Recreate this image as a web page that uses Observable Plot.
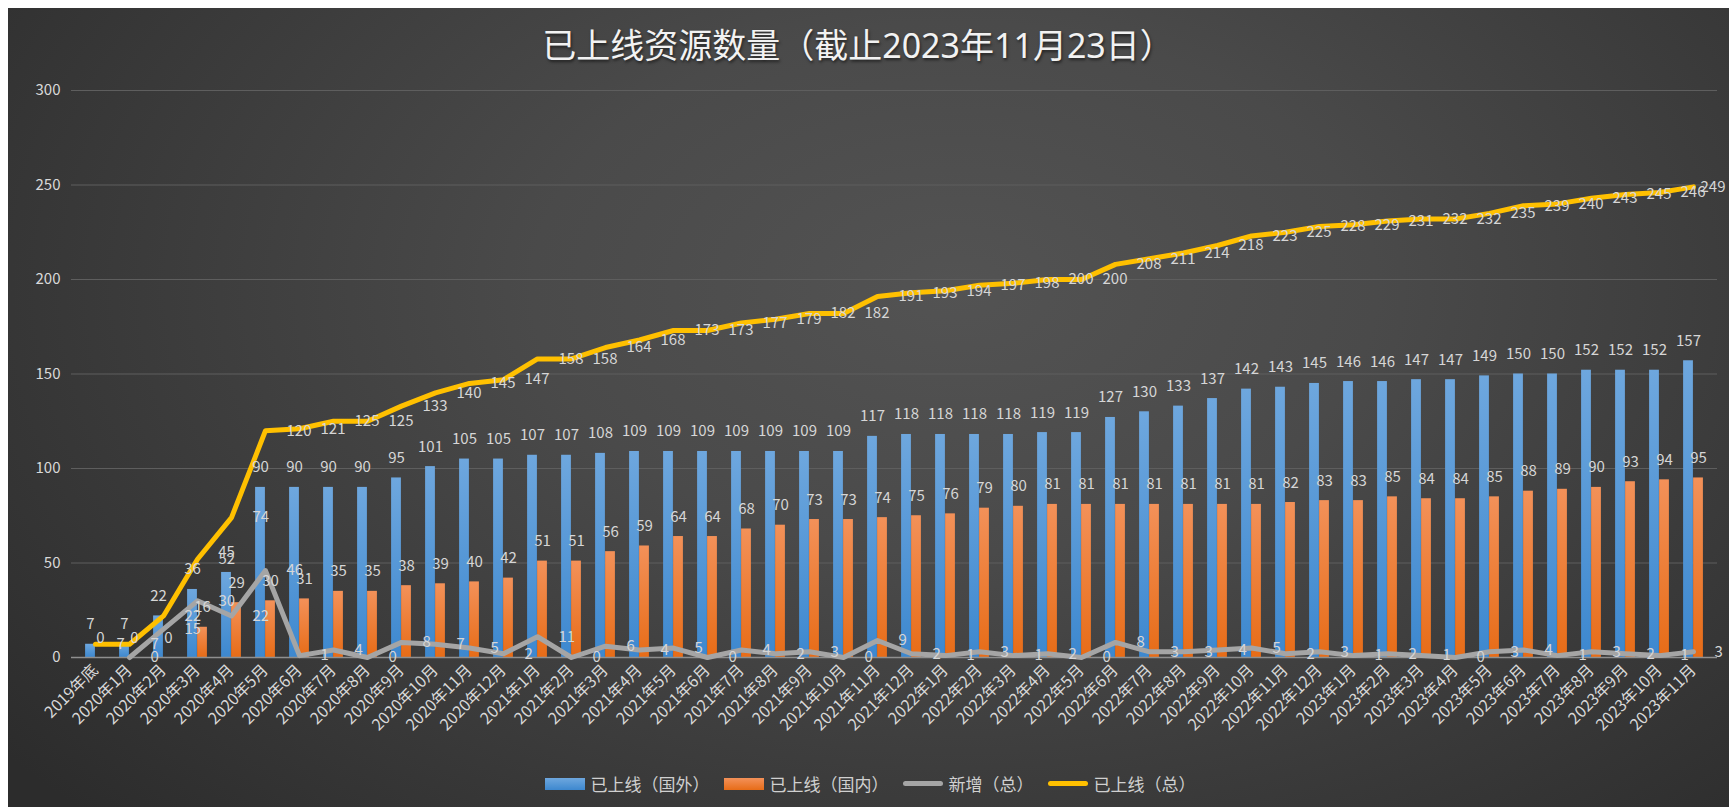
<!DOCTYPE html>
<html><head><meta charset="utf-8">
<script src="https://cdn.jsdelivr.net/npm/d3@7"></script>
<script src="https://cdn.jsdelivr.net/npm/@observablehq/plot@0.6"></script>
<style>
html,body{margin:0;padding:0;background:#fff;overflow:hidden;width:1729px;height:807px}
#wrap{position:absolute;left:8px;top:8px;width:1721px;height:799px;overflow:hidden;
  background:radial-gradient(ellipse 70% 95% at 55% 35%, #535353 0%, #4a4a4a 35%, #2c2c2c 100%);
  font-family:"Noto Sans CJK SC","Noto Sans CJK JP","DejaVu Sans",sans-serif}
#title{position:absolute;top:11px;left:850px;transform:translateX(-50%);white-space:nowrap;font-size:34px;color:#f2f2f2;text-shadow:1px 2px 3px rgba(0,0,0,.55);font-family:"Noto Sans","Noto Sans CJK SC",sans-serif}
#chart{position:absolute;left:0;top:0}
#legend{position:absolute;top:763px;left:0;width:1724px;display:flex;justify-content:center;align-items:center;font-size:17px;color:#d0d0d0}
.item{display:flex;align-items:center;margin:0 7px}
.sw{width:40px;height:12px;margin-right:6px}
.ln{width:40px;height:5px;border-radius:3px;margin-right:6px}
</style></head>
<body>
<div id="wrap">
  <div id="title">已上线资源数量（截止2023年11月23日）</div>
  <div id="chart"></div>
  <div id="legend"></div>
</div>
<script>
const categories = ["2019年底","2020年1月","2020年2月","2020年3月","2020年4月","2020年5月","2020年6月","2020年7月","2020年8月","2020年9月","2020年10月","2020年11月","2020年12月","2021年1月","2021年2月","2021年3月","2021年4月","2021年5月","2021年6月","2021年7月","2021年8月","2021年9月","2021年10月","2021年11月","2021年12月","2022年1月","2022年2月","2022年3月","2022年4月","2022年5月","2022年6月","2022年7月","2022年8月","2022年9月","2022年10月","2022年11月","2022年12月","2023年1月","2023年2月","2023年3月","2023年4月","2023年5月","2023年6月","2023年7月","2023年8月","2023年9月","2023年10月","2023年11月"];
const foreign = [7,7,22,36,45,90,90,90,90,95,101,105,105,107,107,108,109,109,109,109,109,109,109,117,118,118,118,118,119,119,127,130,133,137,142,143,145,146,146,147,147,149,150,150,152,152,152,157];
const domestic = [0,0,0,16,29,30,31,35,35,38,39,40,42,51,51,56,59,64,64,68,70,73,73,74,75,76,79,80,81,81,81,81,81,81,81,82,83,83,85,84,84,85,88,89,90,93,94,95];
const added = [null,0,15,30,22,46,1,4,0,8,7,5,2,11,0,6,4,5,0,4,2,3,0,9,2,1,3,1,2,0,8,3,3,4,5,2,3,1,2,1,0,3,4,1,3,2,1,3];
const total = [7,7,22,52,74,120,121,125,125,133,140,145,147,158,158,164,168,173,173,177,179,182,182,191,193,194,197,198,200,200,208,211,214,218,223,225,228,229,231,232,232,235,239,240,243,245,246,249];
const yTicks = [0,50,100,150,200,250,300];
const seriesNames = ["已上线（国外）","已上线（国内）","新增（总）","已上线（总）"];

const rows = categories.map((c, i) => ({c, foreign: foreign[i], domestic: domestic[i], added: added[i], total: total[i]}));
const lastRow = rows.slice(-1);
const otherRows = rows.slice(0, -1);

const defs = () => {
  const ns = "http://www.w3.org/2000/svg";
  const d = document.createElementNS(ns, "defs");
  d.innerHTML = `
    <linearGradient id="gBlue" x1="0" y1="0" x2="0" y2="1">
      <stop offset="0" stop-color="#6ea7de"/><stop offset="1" stop-color="#3d88cf"/>
    </linearGradient>
    <linearGradient id="gOrange" x1="0" y1="0" x2="0" y2="1">
      <stop offset="0" stop-color="#f39159"/><stop offset="1" stop-color="#e76c17"/>
    </linearGradient>`;
  return d;
};

const labelFill = "#d6d6d6";
const font = '"Noto Sans CJK SC", "Noto Sans CJK JP", "DejaVu Sans", sans-serif';
const hasAxisMarks = typeof Plot.axisY === "function";
const axisMarks = hasAxisMarks ? [
  Plot.axisY({ticks: yTicks, tickSize: 0, tickPadding: 11, fontSize: 15, label: null}),
  Plot.axisX({tickSize: 0, tickPadding: 10, tickRotate: -45, fontSize: 16, label: null})
] : [];
const plot = Plot.plot({
  width: 1721, height: 760,
  marginLeft: 63, marginRight: 12, marginTop: 82, marginBottom: 111,
  style: {background: "transparent", color: "#d9d9d9", fontFamily: font, fontSize: "16px", overflow: "visible"},
  x: {type: "band", domain: categories, padding: 0, label: null, tickSize: 0, tickPadding: 10, tickRotate: -45},
  y: {domain: [0, 300], ticks: yTicks, label: null, tickSize: 0, tickPadding: 11},
  marks: [
    defs,
    ...axisMarks,
    Plot.ruleY(yTicks.filter(t => t > 0), {stroke: "#5e5e5e", strokeWidth: 1.2}),
    Plot.barY(rows, {x: "c", y: "foreign", fill: "url(#gBlue)", insetLeft: 7.1, insetRight: 17.1}),
    Plot.barY(rows, {x: "c", y: "domestic", fill: "url(#gOrange)", insetLeft: 17.1, insetRight: 7.1}),
    Plot.ruleY([0], {stroke: "#8f8f8f", strokeWidth: 1.5}),
    Plot.lineY(rows, {x: "c", y: "added", stroke: "#a5a5a5", strokeWidth: 5, strokeLinejoin: "round", strokeLinecap: "round"}),
    Plot.lineY(rows, {x: "c", y: "total", stroke: "#ffc000", strokeWidth: 5, strokeLinejoin: "round", strokeLinecap: "round"}),
    Plot.text(rows, {x: "c", y: "foreign", text: d => String(d.foreign), dx: -5, dy: -15, lineAnchor: "bottom", fill: labelFill, fontSize: 15}),
    Plot.text(rows, {x: "c", y: "domestic", text: d => String(d.domestic), dx: 5, dy: -15, lineAnchor: "bottom", fill: labelFill, fontSize: 15}),
    Plot.text(rows.filter(d => d.added != null), {x: "c", y: "added", text: d => String(d.added), textAnchor: "start", dx: 21, fill: labelFill, fontSize: 15}),
    Plot.text(otherRows, {x: "c", y: "total", text: d => String(d.total), textAnchor: "start", dx: 21, fill: labelFill, fontSize: 15}),
    Plot.text(lastRow, {x: "c", y: "total", text: d => String(d.total), textAnchor: "start", dx: 7, fill: labelFill, fontSize: 15})
  ]
});
document.getElementById("chart").appendChild(plot);

const swatches = [
  '<div class="sw" style="background:linear-gradient(#6ea7de,#3d88cf)"></div>',
  '<div class="sw" style="background:linear-gradient(#f39159,#e76c17)"></div>',
  '<div class="ln" style="background:#a5a5a5"></div>',
  '<div class="ln" style="background:#ffc000"></div>'
];
document.getElementById("legend").innerHTML = seriesNames.map((n, i) => `<div class="item">${swatches[i]}<span>${n}</span></div>`).join("");
</script>
</body></html>
